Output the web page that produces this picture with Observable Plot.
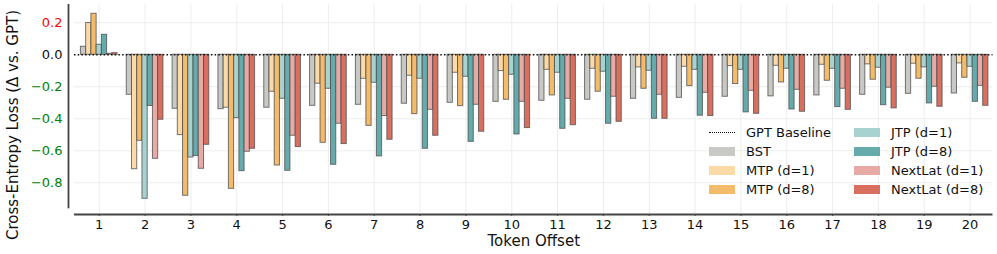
<!DOCTYPE html>
<html>
<head>
<meta charset="utf-8">
<script src="https://cdn.jsdelivr.net/npm/d3@7"></script>
<script src="https://cdn.jsdelivr.net/npm/@observablehq/plot@0.6"></script>
<style>
  body { margin: 0; background: #fff; font-family: "DejaVu Sans", sans-serif; }
  #wrap { position: relative; width: 997px; height: 254px; }
  .legend { position: absolute; font-size: 13px; color: #111; }
  .item { position: absolute; display: flex; align-items: center; height: 18px; white-space: nowrap; }
  .sw { width: 26px; height: 9px; margin-right: 11px; }
  .dot { width: 26px; height: 0; border-top: 1.5px dotted #111; margin-right: 11px; }
</style>
</head>
<body>
<div id="wrap"></div>
<script>
const offsets = d3.range(1, 21);
const seriesNames = ["BST", "MTP (d=1)", "MTP (d=8)", "JTP (d=1)", "JTP (d=8)", "NextLat (d=1)", "NextLat (d=8)"];
const seriesColors = ["#c8c8c4", "#fcdaa8", "#f4bb6b", "#a8d2d0", "#65abab", "#e8aaa5", "#d9705f"];

const bst  = [0.05, -0.25, -0.3375, -0.34, -0.331, -0.319, -0.3125, -0.306, -0.30, -0.294, -0.2875, -0.281, -0.275, -0.269, -0.2625, -0.26, -0.254, -0.25, -0.244, -0.242];
const mtp1 = [0.198, -0.715, -0.502, -0.331, -0.231, -0.181, -0.15, -0.131, -0.1125, -0.102, -0.094, -0.0875, -0.079, -0.075, -0.071, -0.069, -0.0625, -0.06, -0.056, -0.054];
const mtp8 = [0.256, -0.5375, -0.881, -0.8375, -0.692, -0.55, -0.444, -0.371, -0.321, -0.281, -0.254, -0.231, -0.2125, -0.196, -0.183, -0.173, -0.1625, -0.156, -0.15, -0.144];
const jtp1 = [0.0625, -0.90, -0.642, -0.396, -0.275, -0.2125, -0.175, -0.15, -0.1375, -0.125, -0.1125, -0.106, -0.10, -0.094, -0.094, -0.0875, -0.0875, -0.081, -0.079, -0.075];
const jtp8 = [0.125, -0.32, -0.633, -0.727, -0.725, -0.6875, -0.635, -0.5875, -0.544, -0.498, -0.4625, -0.431, -0.40, -0.381, -0.36, -0.342, -0.327, -0.315, -0.304, -0.294];
const nl1  = [0.006, -0.65, -0.7125, -0.606, -0.506, -0.431, -0.383, -0.344, -0.3125, -0.294, -0.275, -0.2625, -0.25, -0.2375, -0.225, -0.219, -0.2125, -0.206, -0.20, -0.194];
const nl8  = [0.01, -0.406, -0.5625, -0.5875, -0.577, -0.558, -0.531, -0.506, -0.481, -0.458, -0.44, -0.419, -0.40, -0.383, -0.369, -0.356, -0.344, -0.335, -0.325, -0.319];
const seriesValues = [bst, mtp1, mtp8, jtp1, jtp8, nl1, nl8];

const yTicks = [0.2, 0.0, -0.2, -0.4, -0.6, -0.8];
const yDomain = [-0.998, 0.314];
const xDomain = [0.46, 20.5];
const yLabel = "Cross-Entropy Loss (Δ vs. GPT)";
const xLabel = "Token Offset";
const baselineLabel = "GPT Baseline";

const groupWidth = 0.8;
const barW = groupWidth / seriesNames.length;

const rows = [];
seriesValues.forEach((vals, si) => {
  vals.forEach((v, oi) => rows.push({offset: offsets[oi], si, series: seriesNames[si], value: v}));
});

const fmt = d3.format(".1f");
const plot = Plot.plot({
  width: 997,
  height: 254,
  marginLeft: 74,
  marginRight: 4.5,
  marginTop: 4,
  marginBottom: 40,
  style: {fontFamily: "DejaVu Sans, sans-serif", fontSize: "13px", color: "#111", background: "transparent"},
  x: {type: "linear", domain: xDomain, axis: null},
  y: {domain: yDomain, axis: null},
  marks: [
    Plot.ruleY(yTicks, {stroke: "#ebebeb", strokeWidth: 0.9}),
    Plot.ruleX(offsets, {stroke: "#ebebeb", strokeWidth: 0.9}),
    Plot.rectY(rows, {
      x1: d => d.offset - groupWidth / 2 + d.si * barW,
      x2: d => d.offset - groupWidth / 2 + (d.si + 1) * barW,
      y1: 0,
      y2: "value",
      fill: d => seriesColors[d.si],
      stroke: "#4a4a4a",
      strokeOpacity: 0.75,
      strokeWidth: 1
    }),
    Plot.ruleY([0], {stroke: "#111", strokeWidth: 1.5, strokeDasharray: "1.5,2.2"}),
    // spines
    Plot.ruleX([xDomain[0]], {y1: yDomain[1], y2: -0.9625, dx: -6, stroke: "#444", strokeWidth: 1.8}),
    Plot.ruleY([yDomain[0]], {stroke: "#444", strokeWidth: 1.8}),
    // axes
    Plot.axisX(offsets, {label: null, tickSize: 2, tickPadding: 3, fontSize: 13, stroke: "#444", fill: "#111", tickFormat: d => String(d)}),
    Plot.axisY([0.2], {label: null, tickSize: 0, tickPadding: 12, fontSize: 13, fill: "red", tickFormat: fmt}),
    Plot.axisY([0.0], {label: null, tickSize: 0, tickPadding: 12, fontSize: 13, fill: "#111", tickFormat: fmt}),
    Plot.axisY([-0.2, -0.4, -0.6, -0.8], {label: null, tickSize: 0, tickPadding: 12, fontSize: 13, fill: "green", tickFormat: fmt}),
    Plot.text([yLabel], {frameAnchor: "left", textAnchor: "middle", lineAnchor: "middle", rotate: -90, dx: -61.5, dy: 15.5, fontSize: 15, fill: "#111"}),
    Plot.text([xLabel], {frameAnchor: "bottom", textAnchor: "middle", lineAnchor: "bottom", dy: 31, fontSize: 15, fill: "#111"})
  ]
});

const wrap = document.getElementById("wrap");
wrap.appendChild(plot);

// legend
const legend = document.createElement("div");
legend.className = "legend";
legend.style.left = "0px"; legend.style.top = "0px";
const items = [{label: baselineLabel, dotted: true}].concat(seriesNames.map((n, i) => ({label: n, color: seriesColors[i]})));
const colX = [709, 854];
const rowY = [132.3, 151.2, 170.1, 189];
items.forEach((it, i) => {
  const col = Math.floor(i / 4), row = i % 4;
  const el = document.createElement("div");
  el.className = "item";
  el.style.left = colX[col] + "px";
  el.style.top = (rowY[row] - 9) + "px";
  const h = document.createElement("div");
  if (it.dotted) h.className = "dot"; else { h.className = "sw"; h.style.background = it.color; }
  el.appendChild(h);
  const t = document.createElement("span");
  t.textContent = it.label;
  el.appendChild(t);
  legend.appendChild(el);
});
wrap.appendChild(legend);
</script>
</body>
</html>
